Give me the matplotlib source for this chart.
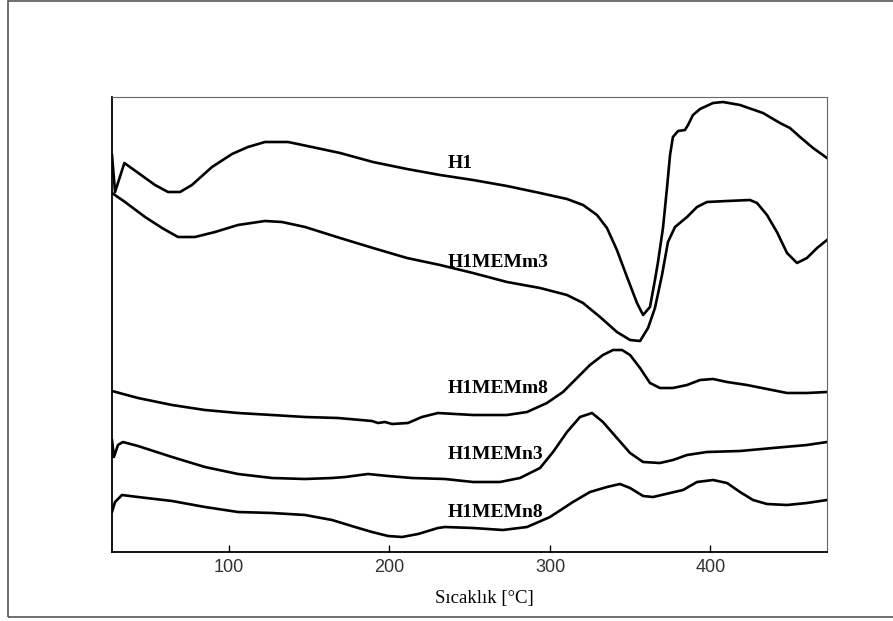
import matplotlib
matplotlib.use("Agg")
import matplotlib.pyplot as plt
from matplotlib.patches import Rectangle

# DTA egrileri, sicaklik (C) ve keyfi sinyal
h1_t = [27.1, 29.0, 34.8, 43.5, 53.9, 62.0, 69.5, 76.9, 89.4, 101.9, 111.8, 122.4,
        136.8, 151.7, 169.2, 189.7, 210.9, 231.5, 252.0, 273.2, 293.8, 310.6, 320.6,
        329.3, 335.5, 341.7, 348.0, 354.2, 358.0, 362.3, 365.4, 367.3, 370.4, 372.9,
        374.8, 376.6, 379.8, 384.1, 386.0, 389.1, 393.5, 401.6, 407.8, 418.4, 432.7,
        443.3, 449.5, 455.8, 463.9, 472.6]
h1_y = [397, 360, 389, 379, 367, 360, 360, 367, 385, 398, 405, 410,
        410, 405, 399, 390, 383, 377, 372, 366, 359, 353, 347,
        337, 324, 302, 275, 249, 237, 245, 272, 290, 324, 364,
        397, 415, 421, 422, 427, 437, 443, 449, 450, 447, 439,
        429, 424, 415, 404, 394]

m3_t = [27.1, 35.2, 47.7, 58.3, 68.2, 78.8, 91.3, 105.6, 122.4, 133.0, 147.4, 169.2,
        189.7, 210.9, 231.5, 252.0, 273.2, 293.8, 310.6, 320.6, 331.2, 341.7, 349.9,
        356.1, 361.1, 365.4, 369.8, 373.5, 377.9, 385.4, 391.6, 397.8, 410.3, 424.6,
        429.0, 435.2, 441.4, 447.7, 453.9, 460.1, 466.4, 472.6]
m3_y = [359, 350, 335, 324, 315, 315, 320, 327, 331, 330, 325, 314,
        304, 294, 287, 279, 270, 264, 257, 249, 235, 220, 212,
        211, 224, 244, 277, 310, 325, 335, 345, 350, 351, 352,
        349, 337, 320, 299, 289, 294, 304, 312]

m8_t = [27.1, 43.3, 64.5, 85.0, 105.6, 126.8, 147.4, 167.9, 189.1, 192.8, 197.2, 201.6,
        211.5, 220.2, 230.2, 252.0, 273.2, 285.7, 298.1, 308.1, 316.8, 324.9, 333.0,
        339.3, 344.9, 349.9, 356.1, 362.3, 368.5, 376.6, 385.4, 393.5, 401.6, 410.3,
        422.7, 435.2, 447.7, 460.1, 472.6]
m8_y = [161, 154, 147, 142, 139, 137, 135, 134, 131, 129, 130, 128,
        129, 135, 139, 137, 137, 140, 149, 160, 174, 187, 197,
        202, 202, 197, 184, 169, 164, 164, 167, 172, 173, 170,
        167, 163, 159, 159, 160]

n3_t = [27.1, 28.3, 30.8, 33.9, 43.3, 64.5, 85.0, 105.6, 126.8, 147.4, 164.2, 172.3,
        186.6, 199.1, 214.0, 234.6, 252.0, 268.8, 281.3, 293.8, 301.9, 310.6, 318.7,
        326.2, 333.0, 341.7, 349.9, 358.0, 368.5, 376.6, 385.4, 397.8, 418.4, 438.9,
        460.1, 472.6]
n3_y = [112, 95, 107, 110, 106, 95, 85, 78, 74, 73, 74, 75,
        78, 76, 74, 73, 70, 70, 74, 84, 100, 120, 135,
        139, 130, 114, 99, 90, 89, 92, 97, 100, 101, 104,
        107, 110]

n8_t = [27.1, 29.0, 33.3, 43.3, 64.5, 85.0, 105.6, 126.8, 147.4, 164.2, 178.5, 189.1,
        199.1, 207.8, 217.8, 230.2, 234.6, 252.0, 270.7, 285.7, 300.0, 314.3, 324.9,
        335.5, 343.6, 349.9, 358.0, 364.2, 374.8, 382.9, 391.6, 401.6, 410.3, 418.4,
        426.5, 435.2, 447.7, 460.1, 472.6]
n8_y = [40, 50, 57, 55, 51, 45, 40, 39, 37, 32, 25, 20,
        16, 15, 18, 24, 25, 24, 22, 25, 35, 50, 60,
        65, 68, 64, 56, 55, 59, 62, 70, 72, 69, 60,
        52, 48, 47, 49, 52]

etiketler = ["H1", "H1MEMm3", "H1MEMm8", "H1MEMn3", "H1MEMn8"]
etiket_y = [384, 285, 159, 93, 35]
xticks = [100, 200, 300, 400]

fig = plt.figure(figsize=(8.93, 6.21), dpi=100)
fig.patches.append(Rectangle((8 / 893, 4 / 621), 1.0, 616 / 621, transform=fig.transFigure,
                             fill=False, edgecolor="#555555", linewidth=1.2))

ax = fig.add_axes([112 / 893, 69 / 621, 715 / 893, 455 / 621])
for t, y in [(h1_t, h1_y), (m3_t, m3_y), (m8_t, m8_y), (n3_t, n3_y), (n8_t, n8_y)]:
    ax.plot(t, y, color="black", lw=1.9, solid_joinstyle="round")

for lab, y in zip(etiketler, etiket_y):
    ax.text(236.4, y, lab, family="Liberation Serif", weight="bold", fontsize=14,
            va="baseline", ha="left")

ax.set_xlim(27.1, 472.6)
ax.set_ylim(0, 455)
ax.set_xticks(xticks)
ax.set_yticks([])
ax.tick_params(axis="x", direction="in", length=5, width=1, pad=5, labelsize=13,
               labelcolor="#333333")
for lbl in ax.get_xticklabels():
    lbl.set_family("Liberation Sans")
ax.spines["left"].set_color("black")
ax.spines["bottom"].set_color("black")
ax.spines["left"].set_linewidth(1.3)
ax.spines["bottom"].set_linewidth(1.3)
ax.spines["top"].set_color("#666666")
ax.spines["right"].set_color("#666666")

fig.text(484 / 893, 23 / 621, "Sıcaklık [°C]", family="Liberation Serif", fontsize=13.5,
         ha="center", va="center")

fig.savefig("out.png", dpi=100)
